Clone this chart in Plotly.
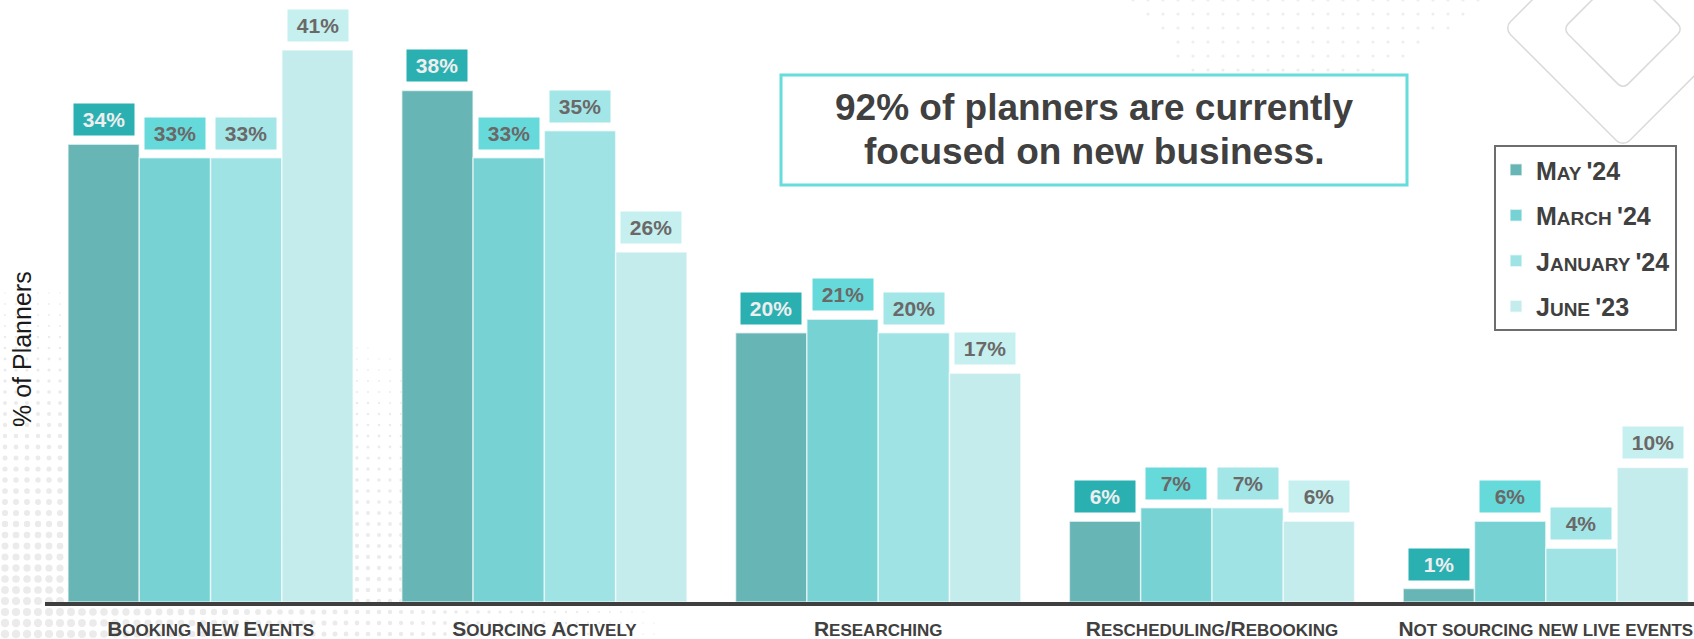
import base64
import math

import plotly.graph_objects as go

# ---- data -------------------------------------------------------------
categories = [
    "Booking New Events",
    "Sourcing Actively",
    "Researching",
    "Rescheduling/Rebooking",
    "Not sourcing new live events",
]
series_names = ["May '24", "March '24", "January '24", "June '23"]
may_24 = [34, 38, 20, 6, 1]
march_24 = [33, 33, 21, 7, 6]
january_24 = [33, 35, 20, 7, 4]
june_23 = [41, 26, 17, 6, 10]
series_values = [may_24, march_24, january_24, june_23]

headline_lines = ["92% of planners are currently", "focused on new business."]
y_title = "% of Planners"

# ---- styling ----------------------------------------------------------
FONT = "Liberation Sans, Arial, sans-serif"
DARK = "#404040"
bar_colors = ["#68b5b6", "#77d2d3", "#9fe3e5", "#c5ecec"]
label_fills = ["#2bb0b2", "#66dadb", "#a2e6e8", "#c6efef"]
label_inks = ["#eeeeee", "#6b6868", "#6b6868", "#6b6868"]

W, H = 1694, 639
M_L, M_R, M_T, M_B = 45, 0, 0, 37
PLOT_W = W - M_L - M_R
PLOT_H = H - M_T - M_B
BARGAP = 0.1456
X_RANGE = [-0.496, 4.444]
Y_RANGE = [0, 44.72]


def small_caps(text, small):
    """Uppercase letters stay full size, lowercase become smaller capitals."""
    out, run = [], ""
    for ch in text:
        if ch.islower() or (ch == " " and run):
            run += ch.upper()
        else:
            if run:
                out.append(f"<span style='font-size:{small}px'>{run}</span>")
                run = ""
            out.append(ch)
    if run:
        out.append(f"<span style='font-size:{small}px'>{run}</span>")
    return "".join(out)


def px_to_paper(px, py):
    return (px - M_L) / PLOT_W, (M_T + PLOT_H - py) / PLOT_H


# ---- halftone dots and diamond outlines drawn as a background image ---
svg = [f"<svg xmlns='http://www.w3.org/2000/svg' width='{W}' height='{H}' viewBox='0 0 {W} {H}'>"]
for cx in range(5, 780, 11):
    for cy in range(H - 5, 230, -11):
        d = math.hypot(cx / 780, (H - cy) / 420)
        r = 4.4 * (1 - d)
        if r > 0.7:
            svg.append(f"<circle cx='{cx}' cy='{cy}' r='{r:.2f}' fill='#ebebeb'/>")
for cy in range(0, 80, 14):
    x_lo, x_hi = 1133 + cy * 0.8, 1490 - cy * 1.5
    cx = 1133
    while cx <= 1490:
        if x_lo <= cx <= x_hi:
            svg.append(f"<circle cx='{cx}' cy='{cy}' r='1.6' fill='#eeeeee'/>")
        cx += 15
for (cx, cy, half, rx) in [(1623, 28, 119, 9), (1623, 29, 60, 7)]:
    side = half * math.sqrt(2)
    svg.append(
        f"<rect x='{-side / 2:.1f}' y='{-side / 2:.1f}' width='{side:.1f}' height='{side:.1f}' rx='{rx}' "
        f"transform='translate({cx},{cy}) rotate(45)' fill='none' stroke='#dadada' stroke-width='1.5'/>"
    )
svg.append("</svg>")
bg_uri = "data:image/svg+xml;base64," + base64.b64encode("".join(svg).encode()).decode()

# ---- figure -----------------------------------------------------------
fig = go.Figure()
for name, values, color in zip(series_names, series_values, bar_colors):
    fig.add_trace(
        go.Bar(
            x=categories,
            y=values,
            name=small_caps(name, 19),
            legendgroup=name,
            marker=dict(color=color, line=dict(color="rgba(255,255,255,0.6)", width=1.5)),
            hoverinfo="skip",
        )
    )

# value labels in coloured boxes above each bar
bar_w = (1 - BARGAP) / len(series_names)
annotations = []
for i, values in enumerate(series_values):
    for j, v in enumerate(values):
        annotations.append(
            dict(
                x=j + (i - (len(series_names) - 1) / 2) * bar_w,
                y=v,
                xref="x",
                yref="y",
                text=f"<b>{v}%</b>",
                showarrow=False,
                yanchor="bottom",
                yshift=8,
                width=60,
                height=31,
                bgcolor=label_fills[i],
                borderpad=0,
                font=dict(family=FONT, size=21, color=label_inks[i]),
            )
        )

# headline: framed box with two centred lines
bx0, by0 = px_to_paper(781, 185)
bx1, by1 = px_to_paper(1407, 75)
shapes = [
    dict(
        type="rect", xref="paper", yref="paper",
        x0=bx0, y0=by0, x1=bx1, y1=by1,
        line=dict(color="#66dcdd", width=3),
        fillcolor="rgba(0,0,0,0)",
    )
]
for line_text, line_y in zip(headline_lines, [108, 151]):
    hx, hy = px_to_paper(1094, line_y)
    annotations.append(
        dict(
            x=hx, y=hy, xref="paper", yref="paper",
            text=f"<b>{line_text}</b>",
            showarrow=False,
            xanchor="center", yanchor="middle",
            font=dict(family=FONT, size=37, color=DARK),
        )
    )

# y-axis title
tx, ty = px_to_paper(22, 349)
annotations.append(
    dict(
        x=tx, y=ty, xref="paper", yref="paper",
        text=y_title, textangle=-90, showarrow=False,
        xanchor="center", yanchor="middle",
        font=dict(family=FONT, size=25, color="#1a1a1a"),
    )
)

lx, ly = px_to_paper(1494, 145)
ix, iy = px_to_paper(0, 0)

fig.update_layout(
    width=W,
    height=H,
    autosize=False,
    margin=dict(l=M_L, r=M_R, t=M_T, b=M_B),
    paper_bgcolor="white",
    plot_bgcolor="rgba(0,0,0,0)",
    barmode="group",
    bargap=BARGAP,
    bargroupgap=0,
    annotations=annotations,
    shapes=shapes,
    images=[
        dict(
            source=bg_uri, xref="paper", yref="paper",
            x=ix, y=iy, sizex=W / PLOT_W, sizey=H / PLOT_H,
            xanchor="left", yanchor="top", sizing="stretch", layer="below",
        )
    ],
    xaxis=dict(
        type="category",
        categoryorder="array",
        categoryarray=categories,
        range=X_RANGE,
        tickmode="array",
        tickvals=categories,
        ticktext=[small_caps(c, 17) for c in categories],
        tickfont=dict(family=FONT, size=21, color=DARK, weight="bold"),
        ticks="",
        ticklabelstandoff=5,
        showline=True,
        linecolor="#3f3f3f",
        linewidth=4,
        showgrid=False,
        zeroline=False,
        fixedrange=True,
    ),
    yaxis=dict(
        range=Y_RANGE,
        showticklabels=False,
        showgrid=False,
        zeroline=False,
        showline=False,
        ticks="",
        fixedrange=True,
    ),
    legend=dict(
        x=lx, y=ly, xanchor="left", yanchor="top",
        bgcolor="white",
        bordercolor="#6d6d6d",
        borderwidth=2,
        tracegroupgap=10,
        font=dict(family=FONT, size=25, color=DARK, weight="bold"),
        traceorder="grouped",
    ),
    showlegend=True,
)

fig.write_html("out.html")
